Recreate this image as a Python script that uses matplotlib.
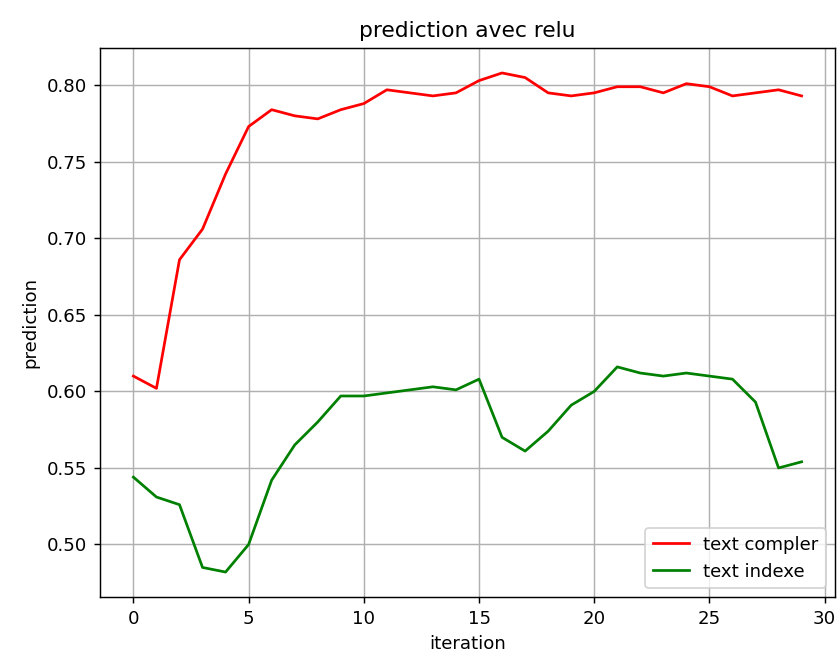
import matplotlib
matplotlib.use("Agg")
import matplotlib.pyplot as plt

# données
iterations = list(range(30))
text_compler = [0.610, 0.602, 0.686, 0.706, 0.742, 0.773, 0.784, 0.780, 0.778, 0.784,
                0.788, 0.797, 0.795, 0.793, 0.795, 0.803, 0.808, 0.805, 0.795, 0.793,
                0.795, 0.799, 0.799, 0.795, 0.801, 0.799, 0.793, 0.795, 0.797, 0.793]
text_indexe = [0.544, 0.531, 0.526, 0.485, 0.482, 0.500, 0.542, 0.565, 0.580, 0.597,
               0.597, 0.599, 0.601, 0.603, 0.601, 0.608, 0.570, 0.561, 0.574, 0.591,
               0.600, 0.616, 0.612, 0.610, 0.612, 0.610, 0.608, 0.593, 0.550, 0.554]

dpi = 130.8
fig = plt.figure(figsize=(837 / dpi, 657 / dpi), dpi=dpi)
ax = fig.add_axes([100 / 837, 1 - 597 / 657, 735 / 837, 549 / 657])

ax.plot(iterations, text_compler, color="red", label="text compler")
ax.plot(iterations, text_indexe, color="green", label="text indexe")

ax.set_title("prediction avec relu")
ax.set_xlabel("iteration")
ax.set_ylabel("prediction")
ax.grid(True)
ax.legend(loc="lower right")

fig.savefig("out.png", dpi=dpi)
